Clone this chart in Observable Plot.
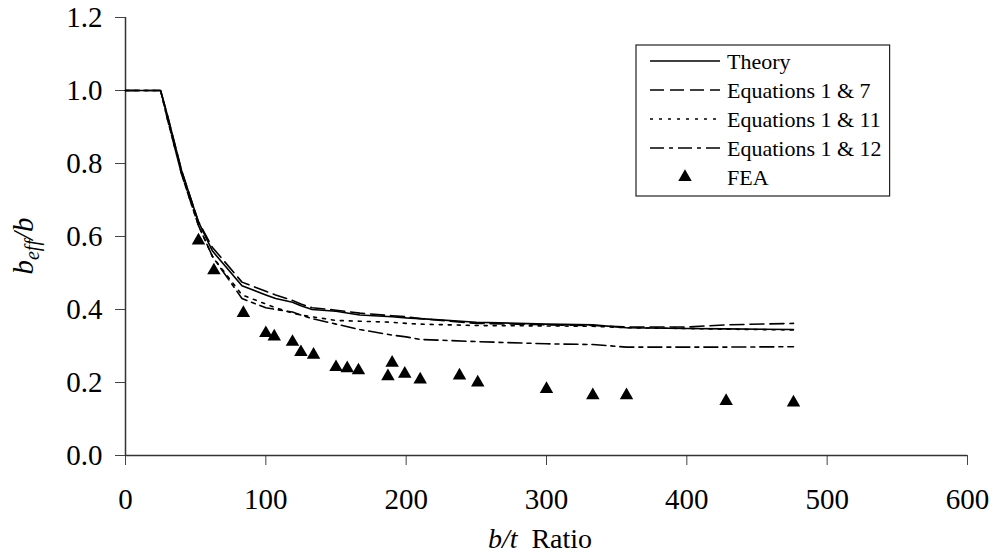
<!DOCTYPE html>
<html><head><meta charset="utf-8">
<script src="https://cdn.jsdelivr.net/npm/d3@7"></script>
<script src="https://cdn.jsdelivr.net/npm/@observablehq/plot@0.6"></script>
<style>body{margin:0;background:#fff}</style>
</head><body><div id="chart"></div>
<script>
// b/t ratio sample points of the curves
const bt = [0, 25, 30, 40, 52, 62, 83, 100, 107, 119, 125, 133, 150, 167, 190, 200, 210, 250, 300, 333, 357, 400, 428, 476];
const theory = [1, 1, 0.93, 0.78, 0.64, 0.56, 0.465, 0.44, 0.43, 0.42, 0.41, 0.40, 0.395, 0.385, 0.38, 0.377, 0.375, 0.365, 0.36, 0.358, 0.35, 0.348, 0.347, 0.345];
const eq1and7 = [1, 1, 0.93, 0.78, 0.64, 0.57, 0.475, 0.45, 0.44, 0.425, 0.415, 0.405, 0.398, 0.39, 0.383, 0.38, 0.375, 0.362, 0.358, 0.356, 0.352, 0.352, 0.358, 0.362];
const eq1and11 = [1, 1, 0.92, 0.77, 0.63, 0.545, 0.44, 0.415, 0.405, 0.39, 0.385, 0.38, 0.37, 0.368, 0.365, 0.362, 0.36, 0.356, 0.355, 0.354, 0.35, 0.348, 0.346, 0.344];
const eq1and12 = [1, 1, 0.92, 0.77, 0.63, 0.545, 0.43, 0.405, 0.40, 0.393, 0.385, 0.375, 0.36, 0.345, 0.33, 0.325, 0.318, 0.312, 0.306, 0.304, 0.297, 0.297, 0.297, 0.298];
// FEA results
const feaX = [52, 63, 84, 100, 106, 119, 125, 134, 150, 158, 166, 187, 190, 199, 210, 238, 251, 300, 333, 357, 428, 476];
const feaY = [0.589, 0.507, 0.390, 0.335, 0.326, 0.311, 0.283, 0.276, 0.242, 0.239, 0.233, 0.217, 0.254, 0.224, 0.208, 0.219, 0.200, 0.182, 0.165, 0.165, 0.149, 0.145];
// ticks
const xTicks = [0, 100, 200, 300, 400, 500, 600];
const yTicks = [0, 0.2, 0.4, 0.6, 0.8, 1.0, 1.2];
const seriesNames = ["Theory", "Equations 1 & 7", "Equations 1 & 11", "Equations 1 & 12", "FEA"];

const dashes = [null, "14,6", "3,6", "14,5,4,5"];
const seriesVals = [theory, eq1and7, eq1and11, eq1and12];
const FONT = "'Liberation Serif', 'Times New Roman', serif";
const TICK_FS = 29;

const lineMarks = seriesVals.map((vals, k) =>
  Plot.line(bt.map((x, i) => ({x, y: vals[i]})), {
    x: "x", y: "y", stroke: "black", strokeWidth: 1.6,
    strokeDasharray: dashes[k] || undefined
  })
);
const fea = feaX.map((x, i) => ({x, y: feaY[i]}));

const chart = Plot.plot({
  width: 995, height: 558,
  marginLeft: 125, marginRight: 28, marginTop: 17, marginBottom: 103,
  style: {fontFamily: FONT, fontSize: TICK_FS + "px", color: "black", background: "white"},
  x: {domain: [0, 600]},
  y: {domain: [0, 1.2]},
  marks: [
    Plot.axisX({ticks: xTicks, tickSize: 10, tickPadding: 23, label: null, stroke: "#444", fontSize: TICK_FS}),
    Plot.axisY({ticks: yTicks, tickSize: 10, tickPadding: 13, label: null, stroke: "#444", fontSize: TICK_FS, tickFormat: d3.format(".1f")}),
    Plot.ruleX([0], {stroke: "#333", strokeWidth: 1.5}),
    Plot.ruleY([0], {stroke: "#333", strokeWidth: 1.5}),
    ...lineMarks,
    Plot.dot(fea, {x: "x", y: "y", symbol: "triangle", fill: "black", stroke: "none", r: 5})
  ]
});
document.getElementById("chart").appendChild(chart);

const svg = d3.select(chart);
// make sure tick labels use the intended size and face
svg.selectAll('g[aria-label$="tick label"]').attr("font-size", TICK_FS).style("font-size", TICK_FS + "px").style("font-family", FONT);
svg.selectAll('g[aria-label$="tick label"] text').style("font-size", TICK_FS + "px").style("font-family", FONT);

const ys = chart.scale("y"), xs = chart.scale("x");
// y label
const yl = svg.append("text")
  .attr("transform", `translate(33,${(ys.apply(0) + ys.apply(1.2)) / 2 + 10}) rotate(-90)`)
  .attr("text-anchor", "middle").style("font-family", FONT).attr("font-size", 29).attr("font-style", "italic");
yl.append("tspan").text("b");
yl.append("tspan").attr("font-size", 20).attr("dy", 6).text("eff");
yl.append("tspan").attr("dy", -6).text("/b");
// x label
const xl = svg.append("text")
  .attr("x", (xs.apply(0) + xs.apply(600)) / 2 - 6).attr("y", 548)
  .attr("text-anchor", "middle").style("font-family", FONT).attr("font-size", 28);
xl.append("tspan").attr("font-style", "italic").text("b/t");
xl.append("tspan").text("\u00a0 Ratio");

// legend
const lg = svg.append("g").style("font-family", FONT).attr("font-size", 22).attr("text-anchor", "start");
const box = lg.append("rect").attr("x", 636).attr("y", 45).attr("height", 151)
  .attr("fill", "white").attr("stroke", "#222").attr("stroke-width", 1.2);
let maxEnd = 0;
seriesNames.forEach((name, i) => {
  const cy = 61 + i * 29;
  if (i < 4) {
    lg.append("line").attr("x1", 650).attr("x2", 720).attr("y1", cy).attr("y2", cy)
      .attr("stroke", "black").attr("stroke-width", 1.6)
      .attr("stroke-dasharray", dashes[i]);
  } else {
    lg.append("path").attr("d", d3.symbol(d3.symbolTriangle, 5 * 5 * Math.PI)())
      .attr("transform", `translate(685,${cy})`).attr("fill", "black");
  }
  const t = lg.append("text").attr("x", 727).attr("y", cy).attr("dy", "0.35em").text(name);
  maxEnd = Math.max(maxEnd, 727 + t.node().getComputedTextLength());
});
box.attr("width", maxEnd + 8 - 636);
</script>
</body></html>
